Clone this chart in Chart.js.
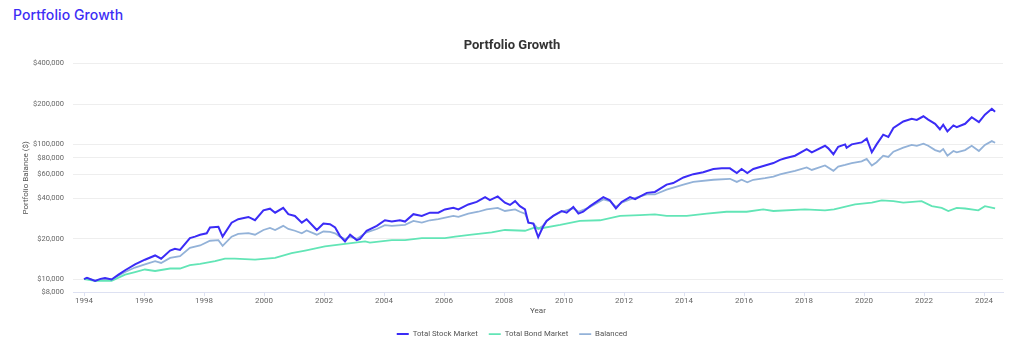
<!DOCTYPE html>
<html>
<head>
<meta charset="utf-8">
<script src="https://cdn.jsdelivr.net/npm/chart.js@4.4.1/dist/chart.umd.min.js"></script>
<style>
  html, body { margin: 0; padding: 0; background: #ffffff; }
  body { width: 1024px; height: 345px; position: relative; overflow: hidden; }
  #heading { position: absolute; left: 13px; top: 6px; margin: 0; font-family: Inter, "Open Sans", sans-serif; font-weight: 500; font-size: 14px; color: #3d2ef5; letter-spacing: 0.1px; }
  #wrap { position: absolute; left: 0; top: 0; width: 1024px; height: 345px; }
</style>
</head>
<body>
<h2 id="heading">Portfolio Growth</h2>
<div id="wrap"><canvas id="c" width="1024" height="345"></canvas></div>
<script>
const seriesNames = ["Total Stock Market", "Total Bond Market", "Balanced"];

const stockYears = [1994.0,1994.1,1994.37,1994.55,1994.7,1994.92,1995.15,1995.37,1995.7,1996.03,1996.37,1996.57,1996.87,1997.03,1997.2,1997.53,1997.7,1997.87,1998.09,1998.2,1998.48,1998.62,1998.92,1999.14,1999.48,1999.7,1999.98,2000.2,2000.37,2000.64,2000.81,2001.03,2001.26,2001.42,2001.76,2001.98,2002.2,2002.37,2002.53,2002.7,2002.87,2003.09,2003.2,2003.42,2003.76,2004.03,2004.26,2004.53,2004.7,2004.98,2005.26,2005.53,2005.81,2006.03,2006.31,2006.48,2006.81,2007.09,2007.37,2007.53,2007.79,2008.03,2008.2,2008.37,2008.53,2008.7,2008.81,2008.98,2009.14,2009.3,2009.42,2009.64,2009.92,2010.09,2010.31,2010.48,2010.64,2010.87,2011.31,2011.53,2011.73,2011.92,2012.2,2012.37,2012.76,2013.03,2013.42,2013.64,2013.98,2014.31,2014.64,2014.98,2015.26,2015.53,2015.76,2015.92,2016.11,2016.31,2016.7,2016.98,2017.2,2017.37,2017.7,2018.09,2018.26,2018.7,2018.81,2018.98,2019.14,2019.37,2019.42,2019.59,2019.92,2020.09,2020.26,2020.42,2020.64,2020.81,2020.98,2021.31,2021.59,2021.76,2021.98,2022.14,2022.37,2022.53,2022.64,2022.78,2022.98,2023.09,2023.37,2023.59,2023.83,2024.03,2024.26,2024.37];
const stockValues = [10000,10250,9700,10050,10200,9950,10800,11650,12900,13950,15000,14200,16300,16800,16500,20200,20700,21400,21900,24200,24500,20700,26300,27900,29000,27400,32500,33400,31200,33900,30400,29500,26300,27900,23200,25900,25600,24200,21000,19100,21400,19500,19900,22900,24900,27400,26800,27400,26800,30400,29500,31200,31200,33000,33900,33000,35900,37500,40700,38700,41200,37000,35600,38000,34900,33000,26300,25900,20500,24500,27100,29500,32100,31200,34400,30700,31700,34900,40700,38500,33600,37500,40700,39300,43800,44500,50400,51800,57000,60300,62300,65900,66600,66600,61500,65900,61500,65900,70000,72900,77000,79100,82700,92600,87700,98000,93800,84800,96400,100400,94800,100400,103800,110800,87700,100400,118500,114000,133000,148700,155300,152700,162400,153500,142800,130000,140500,125400,139000,135000,142800,159700,146800,167000,184600,175700];

const bondYears = [1994.0,1994.37,1994.92,1995.37,1995.7,1996.03,1996.37,1996.87,1997.2,1997.53,1997.87,1998.37,1998.7,1999.03,1999.7,2000.37,2000.92,2001.37,2002.03,2002.7,2003.37,2003.53,2004.26,2004.7,2005.26,2006.03,2006.37,2006.92,2007.59,2008.03,2008.7,2009.03,2009.2,2009.87,2010.53,2011.2,2011.87,2012.53,2013.03,2013.42,2014.09,2014.76,2015.42,2016.09,2016.64,2016.98,2018.03,2018.7,2019.0,2019.7,2020.26,2020.59,2020.98,2021.31,2021.92,2022.26,2022.59,2022.81,2023.09,2023.37,2023.81,2024.03,2024.37];
const bondValues = [10000,9700,9700,10800,11300,11800,11500,12000,12000,12700,13000,13600,14200,14200,13950,14400,15600,16300,17500,18300,19100,18700,19500,19500,20200,20200,20700,21400,22300,23200,22900,24200,23800,25300,27100,27400,29500,29900,30300,29500,29500,30700,31700,31700,33000,32100,33000,32500,33000,35900,37000,38500,38000,37000,38000,34900,33900,32100,33900,33500,32500,34900,33600];

const balancedYears = [1994.0,1994.1,1994.37,1994.7,1994.92,1995.37,1995.7,1996.03,1996.37,1996.57,1996.87,1997.2,1997.53,1997.87,1998.2,1998.48,1998.62,1998.92,1999.14,1999.48,1999.7,1999.98,2000.2,2000.37,2000.64,2000.81,2001.03,2001.26,2001.42,2001.76,2001.98,2002.2,2002.37,2002.53,2002.7,2002.87,2003.09,2003.42,2003.76,2004.03,2004.26,2004.7,2004.98,2005.26,2005.53,2005.81,2006.31,2006.48,2006.81,2007.14,2007.42,2007.79,2008.03,2008.37,2008.53,2008.7,2008.83,2008.98,2009.14,2009.3,2009.42,2009.64,2009.92,2010.31,2010.48,2010.87,2011.31,2011.53,2011.73,2011.92,2012.2,2012.76,2013.03,2013.42,2013.98,2014.31,2014.98,2015.53,2015.76,2015.92,2016.11,2016.31,2016.7,2016.98,2017.2,2017.37,2017.7,2018.09,2018.26,2018.7,2018.98,2019.14,2019.37,2019.59,2019.92,2020.09,2020.26,2020.42,2020.64,2020.81,2020.98,2021.31,2021.59,2021.76,2021.98,2022.14,2022.37,2022.53,2022.64,2022.78,2022.98,2023.09,2023.37,2023.59,2023.83,2024.03,2024.26,2024.37];
const balancedValues = [10000,10150,9750,10050,9950,11300,12200,12900,13600,13200,14400,14800,17100,17800,19300,19500,17700,20700,21700,22000,21400,23200,24000,23200,24900,23600,22900,21900,23000,21400,22600,22500,21900,20700,19900,20700,19900,22300,23600,25200,24900,25300,27100,26300,27400,27900,29500,29000,30700,31700,33000,33900,32100,33000,31700,30700,26300,25900,23600,25000,27100,29500,31700,33600,31700,34400,39100,38000,34400,37000,39100,42600,42600,46300,50400,52800,54800,55700,52800,54800,52500,54800,56300,57800,60000,61500,63800,67600,64800,70000,63800,68700,70700,72900,75000,78200,70000,74000,82700,81000,88600,94900,99500,98000,101700,98000,91000,88600,92600,82700,89700,87700,91000,98000,89700,99500,106200,103300];

const xTickYears = [1994,1996,1998,2000,2002,2004,2006,2008,2010,2012,2014,2016,2018,2020,2022,2024];
const yTickValues = [8000,10000,20000,40000,60000,80000,100000,200000,400000];

const colors = ["#3b2cf6", "#62e5b6", "#93b2d8"];
const pts = (xs, ys) => xs.map((x, i) => ({ x: x, y: ys[i] }));

Chart.defaults.font.family = "Roboto, 'Liberation Sans', sans-serif";

new Chart(document.getElementById('c'), {
  type: 'line',
  data: {
    datasets: [
      { label: seriesNames[0], data: pts(stockYears, stockValues), borderColor: colors[0], backgroundColor: colors[0], borderWidth: 2 },
      { label: seriesNames[1], data: pts(bondYears, bondValues), borderColor: colors[1], backgroundColor: colors[1], borderWidth: 1.8 },
      { label: seriesNames[2], data: pts(balancedYears, balancedValues), borderColor: colors[2], backgroundColor: colors[2], borderWidth: 1.8 }
    ]
  },
  options: {
    responsive: false,
    animation: false,
    devicePixelRatio: 1,
    elements: { point: { radius: 0 }, line: { tension: 0 } },
    layout: { padding: { top: 34, right: 21, bottom: -3, left: 21 } },
    plugins: {
      title: { display: true, text: 'Portfolio Growth', color: '#333333', font: { size: 13, weight: 'bold' }, padding: { top: 4, bottom: 10 } },
      legend: {
        position: 'bottom',
        labels: { usePointStyle: true, pointStyle: 'line', pointStyleWidth: 12, color: '#555555', font: { size: 7.8 }, padding: 11, boxHeight: 8 }
      },
      tooltip: { enabled: false }
    },
    scales: {
      x: {
        type: 'linear',
        min: 1993.633,
        max: 2024.633,
        afterBuildTicks: (axis) => { axis.ticks = xTickYears.map(v => ({ value: v })); },
        afterFit: (axis) => { axis.height = 27; },
        ticks: { callback: (v) => String(v), color: '#666666', font: { size: 8 }, autoSkip: false, maxRotation: 0, padding: 0 },
        grid: { drawOnChartArea: false, drawTicks: true, tickLength: 4, color: '#dde1f2' },
        border: { color: '#dde1f2' },
        title: { display: true, text: 'Year', color: '#555555', font: { size: 8 }, padding: { top: 0, bottom: 3 } }
      },
      y: {
        type: 'logarithmic',
        min: 8000,
        max: 400000,
        afterBuildTicks: (axis) => { axis.ticks = yTickValues.map(v => ({ value: v })); },
        afterFit: (axis) => { axis.width = 52; },
        ticks: { callback: (v) => '$' + Number(v).toLocaleString('en-US'), color: '#666666', font: { size: 7.5 }, autoSkip: false, padding: 9 },
        grid: { drawTicks: false, color: '#eeeeee' },
        border: { display: false },
        title: { display: true, text: 'Portfolio Balance ($)', color: '#555555', font: { size: 8 }, padding: { top: 0, bottom: 4 } }
      }
    }
  }
});
</script>
</body>
</html>
